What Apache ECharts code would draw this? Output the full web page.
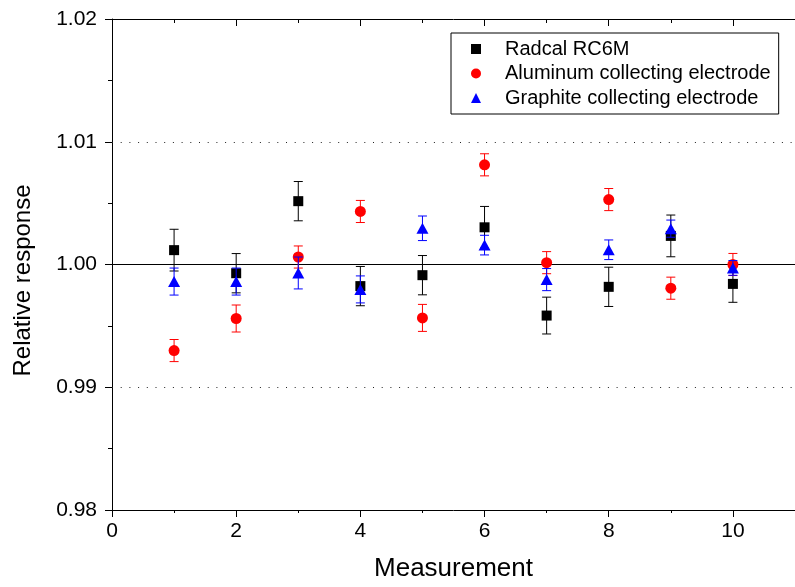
<!DOCTYPE html>
<html>
<head>
<meta charset="utf-8">
<script src="https://cdn.jsdelivr.net/npm/echarts@6/dist/echarts.min.js"></script>
<style>
  html, body { margin: 0; padding: 0; background: #fff; }
  #container { width: 795px; height: 587px; }
</style>
</head>
<body>
<div id="container"></div>
<script>
var measurements = [1, 2, 3, 4, 5, 6, 7, 8, 9, 10];

var radcal      = [1.00117, 0.99929, 1.00516, 0.99824, 0.99913, 1.00303, 0.99584, 0.99818, 1.00233, 0.99842];
var radcalErr   = [0.0017, 0.0016, 0.0016, 0.0016, 0.0016, 0.0017, 0.0015, 0.0016, 0.0017, 0.0015];

var aluminum    = [0.99299, 0.99560, 1.00061, 1.00432, 0.99565, 1.00812, 1.00015, 1.00529, 0.99807, 1.00000];
var aluminumErr = [0.0009, 0.0011, 0.0009, 0.0009, 0.0011, 0.0009, 0.0009, 0.0009, 0.0009, 0.0009];

var graphite    = [0.99861, 0.99861, 0.99931, 0.99797, 1.00295, 1.00158, 0.99877, 1.00120, 1.00292, 0.99972];
var graphiteErr = [0.0011, 0.0011, 0.0013, 0.0011, 0.0010, 0.0008, 0.0009, 0.0008, 0.0007, 0.0006];

var yTicks = [0.98, 0.99, 1.00, 1.01, 1.02];
var refSolid = 1.00;
var refDotted = [0.99, 1.01];

var font = 'Liberation Sans, Arial, sans-serif';

function points(vals) {
    return measurements.map(function (m, i) { return [m, vals[i]]; });
}
function bars(vals, errs) {
    return measurements.map(function (m, i) { return [m, vals[i] - errs[i], vals[i] + errs[i]]; });
}

// error bars with caps, drawn after the scatter series so the legend takes the scatter symbol
function errorBars(name, vals, errs, color, z) {
    return {
        type: 'custom',
        name: name,
        data: bars(vals, errs),
        z: z,
        silent: true,
        itemStyle: { color: color },
        encode: { x: 0, y: [1, 2] },
        renderItem: function (params, api) {
            var lo = api.coord([api.value(0), api.value(1)]);
            var hi = api.coord([api.value(0), api.value(2)]);
            var w = 4.5;
            var st = { stroke: color, lineWidth: 1 };
            return {
                type: 'group',
                children: [
                    { type: 'line', shape: { x1: lo[0], y1: lo[1], x2: hi[0], y2: hi[1] }, style: st },
                    { type: 'line', shape: { x1: lo[0] - w, y1: lo[1], x2: lo[0] + w, y2: lo[1] }, style: st },
                    { type: 'line', shape: { x1: hi[0] - w, y1: hi[1], x2: hi[0] + w, y2: hi[1] }, style: st }
                ]
            };
        }
    };
}

var dom = document.getElementById('container');
var myChart = echarts.init(dom);

var refLines = [{ yAxis: refSolid, lineStyle: { type: 'solid', color: '#000', width: 1.2 } }];
refDotted.forEach(function (v) {
    refLines.push({ yAxis: v, lineStyle: { type: [1, 7.7], color: '#222', width: 1 } });
});

var option = {
    animation: false,
    textStyle: { fontFamily: font },
    grid: { left: 112, top: 19, bottom: 75, right: -9 },
    legend: {
        left: 451,
        top: 33,
        orient: 'vertical',
        itemWidth: 10,
        itemHeight: 10,
        itemGap: 4.5,
        padding: [6, 8, 6, 20],
        borderColor: '#000',
        borderWidth: 1,
        textStyle: { fontSize: 20, fontFamily: font, color: '#000', lineHeight: 20, padding: [0, 0, 0, 19] },
        data: ['Radcal RC6M', 'Aluminum collecting electrode', 'Graphite collecting electrode']
    },
    xAxis: [{
        type: 'value',
        min: 0,
        max: 11,
        interval: 2,
        name: 'Measurement',
        nameLocation: 'middle',
        nameGap: 46,
        nameTextStyle: { fontSize: 26, color: '#000', fontFamily: font },
        axisLine: { show: true, lineStyle: { color: '#000', width: 1 } },
        axisTick: { show: true, length: 7, lineStyle: { color: '#000' } },
        minorTick: { show: true, splitNumber: 2, length: 3, lineStyle: { color: '#000' } },
        axisLabel: { fontSize: 21, color: '#000', margin: 11, showMaxLabel: false },
        splitLine: { show: false }
    }, {
        type: 'value',
        position: 'top',
        min: 0,
        max: 11,
        interval: 2,
        axisLine: { show: true, lineStyle: { color: '#000', width: 1 } },
        axisTick: { show: true, inside: true, length: 7, lineStyle: { color: '#000' } },
        minorTick: { show: true, splitNumber: 2, length: 4, lineStyle: { color: '#000' } },
        axisLabel: { show: false },
        splitLine: { show: false }
    }],
    yAxis: {
        type: 'value',
        min: yTicks[0],
        max: yTicks[yTicks.length - 1],
        interval: 0.01,
        name: 'Relative response',
        nameLocation: 'middle',
        nameGap: 77,
        nameTextStyle: { fontSize: 24, color: '#000', fontFamily: font, padding: [0, 32, 0, 0] },
        axisLine: { show: true, lineStyle: { color: '#000', width: 1 } },
        axisTick: { show: true, length: 7, lineStyle: { color: '#000' } },
        minorTick: { show: true, splitNumber: 2, length: 4, lineStyle: { color: '#000' } },
        axisLabel: {
            fontSize: 21, color: '#000', margin: 15,
            formatter: function (v) { return v.toFixed(2); }
        },
        splitLine: { show: false }
    },
    series: [
        {
            type: 'scatter',
            name: 'Radcal RC6M',
            data: points(radcal),
            symbol: 'rect',
            symbolSize: 10,
            itemStyle: { color: '#000', opacity: 1 },
            z: 3,
            markLine: {
                silent: true,
                symbol: 'none',
                label: { show: false },
                z: 1,
                data: refLines
            }
        },
        {
            type: 'scatter',
            name: 'Aluminum collecting electrode',
            data: points(aluminum),
            symbol: 'circle',
            symbolSize: 11,
            itemStyle: { color: '#ff0000', opacity: 1 },
            z: 5
        },
        {
            type: 'scatter',
            name: 'Graphite collecting electrode',
            data: points(graphite),
            symbol: 'triangle',
            symbolSize: [12, 11],
            itemStyle: { color: '#0000ff', opacity: 1 },
            z: 7
        },
        errorBars('Radcal RC6M', radcal, radcalErr, '#000', 2),
        errorBars('Aluminum collecting electrode', aluminum, aluminumErr, '#ff0000', 4),
        errorBars('Graphite collecting electrode', graphite, graphiteErr, '#0000ff', 6)
    ]
};

if (option && typeof option === 'object') {
    myChart.setOption(option);
}
</script>
</body>
</html>
